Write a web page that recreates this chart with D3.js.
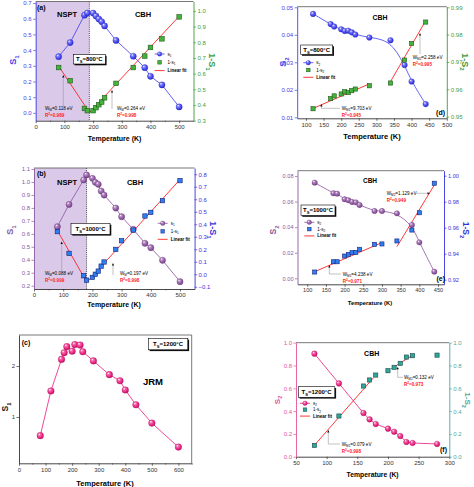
<!DOCTYPE html>
<html><head><meta charset="utf-8">
<script src="https://cdn.jsdelivr.net/npm/d3@7"></script>
<style>
html,body{margin:0;padding:0;background:#fff;}
svg{display:block;font-family:"Liberation Sans",Arial,sans-serif;}
</style></head><body>
<svg id="chart" width="474" height="487"></svg>
<script>
// ================= DATA =================
// (a) Ts = 800 C
const tempA = [80,120,170,180,200,210,220,230,240,280,340,380,400,440,500];
const s1A = [0.358,0.448,0.623,0.636,0.636,0.617,0.598,0.581,0.554,0.462,0.361,0.288,0.233,0.178,0.038];
const oneMinusS1A = [0.639,0.555,0.378,0.364,0.364,0.383,0.402,0.419,0.446,0.538,0.639,0.712,0.767,0.822,0.962];
const fitTA1 = [80,187], fitVA1 = [0.648,0.353];
const fitTA2 = [188,500], fitVA2 = [0.353,0.966];
const xTicksA = [0,100,200,300,400,500];
const yTicksLA = [0,0.1,0.2,0.3,0.4,0.5,0.6,0.7];
const yTicksRA = [0.3,0.4,0.5,0.6,0.7,0.8,0.9,1.0];

// (b) Ts = 1000 C
const tempB = [80,120,170,180,200,210,220,230,240,280,300,340,380,400,440,500];
const s1B = [0.655,0.827,1.015,1.054,1.028,0.997,0.982,0.930,0.899,0.799,0.732,0.635,0.527,0.493,0.396,0.231];
const oneMinusS1B = [0.341,0.167,-0.012,-0.047,-0.025,0.0,0.025,0.065,0.098,0.199,0.268,0.354,0.466,0.495,0.589,0.749];
const fitTB1 = [80,180], fitVB1 = [0.349,-0.06];
const fitTB2 = [183,500], fitVB2 = [-0.06,0.758];
const xTicksB = [0,100,200,300,400,500];
const yTicksLB = [0.2,0.3,0.4,0.5,0.6,0.7,0.8,0.9,1.0,1.1];
const yTicksRB = [-0.1,0,0.1,0.2,0.3,0.4,0.5,0.6,0.7,0.8];

// (c) Ts = 1200 C
const tempC = [80,120,160,170,180,200,210,230,240,280,340,380,400,440,500,600];
const s1C = [0.634,1.51,2.13,2.26,2.38,2.29,2.42,2.41,2.28,2.10,1.83,1.71,1.53,1.24,0.88,0.41];
const xTicksC = [0,100,200,300,400,500,600];
const yTicksC = [1,2];

// (d) Ts = 800 C
const tempD = [120,170,180,200,210,220,230,240,280,340,380,400,440];
const s2D = [0.0476,0.0439,0.0430,0.0420,0.0414,0.0415,0.0409,0.0401,0.0390,0.0380,0.0290,0.0230,0.0148];
const oneMinusS2D = [0.9529,0.9566,0.9576,0.9583,0.9591,0.9588,0.9595,0.9601,0.9613,0.9623,0.9707,0.9768,0.9846];
const fitTD1 = [120,280], fitVD1 = [0.9530,0.9620];
const fitTD2 = [340,440], fitVD2 = [0.9628,0.9851];
const xTicksD = [100,150,200,250,300,350,400,450,500];
const yTicksLD = [0.01,0.02,0.03,0.04,0.05];
const yTicksRD = [0.95,0.96,0.97,0.98,0.99];

// (e) Ts = 1000 C
const tempE = [120,170,180,200,210,220,230,240,280,300,340,380,400,440];
const s2E = [0.0748,0.0665,0.0662,0.0618,0.0610,0.0597,0.0594,0.0573,0.0526,0.0526,0.0508,0.0417,0.0281,0.0052];
const oneMinusS2E = [0.9259,0.9338,0.9338,0.9382,0.9395,0.9408,0.9410,0.9434,0.9472,0.9475,0.9498,0.9582,0.9715,0.9942];
const fitTE1 = [118,302], fitVE1 = [0.9259,0.9488];
const fitTE2 = [340,440], fitVE2 = [0.9454,0.9928];
const xTicksE = [100,150,200,250,300,350,400,450];
const yTicksLE = [0,0.02,0.04,0.06,0.08];
const yTicksRE = [0.92,0.94,0.96,0.98,1.00];

// (f) Ts = 1200 C
const tempF = [80,120,160,170,180,200,210,220,230,240,280];
const s2F = [0.904,0.643,0.383,0.327,0.287,0.246,0.219,0.181,0.129,0.120,0.112];
const oneMinusS2F = [0.099,0.357,0.620,0.673,0.716,0.754,0.784,0.819,0.874,0.886,0.891];
const fitTF1 = [80,176], fitVF1 = [0.10,0.69];
const fitTF2 = [205,240], fitVF2 = [0.77,0.89];
const xTicksF = [50,100,150,200,250,300];
const yTicksF = [0,0.2,0.4,0.6,0.8,1.0];

// ================= STYLE =================
const FONT = '"Liberation Sans", Arial, sans-serif';
const BLUE = '#3b3bf2', BLUE_AX = '#4343e8';
const GREEN_SQ = '#46b23e', GREEN_ED = '#1f5a1a', GREEN_AX = '#3e9b3a';
const PURPLE = '#8c50a0', PURPLE_AX = '#8a5a9e';
const BLUE_SQ = '#2f7ff0', BLUE_ED = '#15207a', BLUE2_AX = '#3434dc';
const PINK = '#ea1a7c', PINK_AX = '#e6559a';
const TEAL_SQ = '#2da69b', TEAL_ED = '#1c4845', TEAL_AX = '#4aa7a1';
const RED = '#ff2323';
const SHADE = '#dbc9ea';

const svg = d3.select('#chart');
const defs = svg.append('defs');
function makeGrad(id, c) {
  const gr = defs.append('radialGradient').attr('id', id)
    .attr('cx', '42%').attr('cy', '40%').attr('r', '62%').attr('fx', '33%').attr('fy', '28%');
  gr.append('stop').attr('offset', '0%').attr('stop-color', '#ffffff');
  gr.append('stop').attr('offset', '30%').attr('stop-color', d3.interpolateRgb(c, '#ffffff')(0.35));
  gr.append('stop').attr('offset', '78%').attr('stop-color', c);
  gr.append('stop').attr('offset', '100%').attr('stop-color', d3.color(c).darker(1).formatHex());
}
makeGrad('gBlue', BLUE); makeGrad('gPurple', PURPLE); makeGrad('gPink', PINK);

function rich(parent, x, y, segs, o) {
  const size = o.size;
  const g = parent.append('g').attr('transform', `translate(${x},${y})` + (o.rotate ? ` rotate(${o.rotate})` : ''));
  const t = g.append('text').attr('x', 0).attr('y', o.center ? size * 0.35 : 0)
    .attr('font-size', size).attr('fill', o.fill || '#000')
    .attr('font-weight', o.bold ? 'bold' : 'normal')
    .attr('font-family', FONT)
    .attr('text-anchor', o.anchor || 'start');
  let shift = 0;
  segs.forEach(([txt, mode]) => {
    const ts = t.append('tspan').text(txt);
    const target = mode === 'sub' ? size * 0.3 : (mode === 'sup' ? -size * 0.42 : 0);
    if (target - shift !== 0) ts.attr('dy', target - shift);
    shift = target;
    if (mode) ts.attr('font-size', size * 0.68);
  });
  return t;
}

function styleAxis(sel, color, fs) {
  sel.attr('font-size', fs).attr('font-family', FONT);
  sel.select('.domain').attr('stroke', color).attr('stroke-width', 0.9);
  sel.selectAll('.tick line').attr('stroke', color).attr('stroke-width', 0.7);
  sel.selectAll('.tick text').attr('fill', color);
}

function drawPanel(p) {
  const g = svg.append('g');
  const x = d3.scaleLinear().domain(p.xDomain).range([p.x0, p.x1]);
  const y = { L: d3.scaleLinear().domain(p.yL.domain).range([p.bottom, p.top]) };
  if (p.yR) y.R = d3.scaleLinear().domain(p.yR.domain).range([p.bottom, p.top]);
  if (p.shade) {
    g.append('rect').attr('x', x(p.shade[0])).attr('y', p.top)
      .attr('width', x(p.shade[1]) - x(p.shade[0])).attr('height', p.bottom - p.top)
      .attr('fill', SHADE);
    g.append('line').attr('x1', x(p.shade[1])).attr('x2', x(p.shade[1]))
      .attr('y1', p.top).attr('y2', p.bottom)
      .attr('stroke', '#222').attr('stroke-width', 0.8).attr('stroke-dasharray', '1,1.1');
  }
  p.series.forEach(s => {
    if (s.line) {
      g.append('path').datum(d3.zip(s.T, s.v))
        .attr('d', d3.line().x(d => x(d[0])).y(d => y[s.axis](d[1])).curve(s.curve || d3.curveLinear))
        .attr('fill', 'none').attr('stroke', s.lineColor || s.color).attr('stroke-width', 0.8);
    }
  });
  (p.fits || []).forEach(f => {
    g.append('path').datum(d3.zip(f.T, f.v))
      .attr('d', d3.line().x(d => x(d[0])).y(d => y[f.axis](d[1])))
      .attr('fill', 'none').attr('stroke', RED).attr('stroke-width', 0.9);
  });
  p.series.forEach(s => {
    const pts = d3.zip(s.T, s.v);
    if (s.kind === 'sphere') {
      g.append('g').selectAll('circle').data(pts).join('circle')
        .attr('cx', d => x(d[0])).attr('cy', d => y[s.axis](d[1])).attr('r', s.r)
        .attr('fill', `url(#${s.grad})`)
        .attr('stroke', d3.color(s.color).darker(0.7).formatHex()).attr('stroke-width', 0.35);
    } else {
      g.append('g').selectAll('rect').data(pts).join('rect')
        .attr('x', d => x(d[0]) - s.size / 2).attr('y', d => y[s.axis](d[1]) - s.size / 2)
        .attr('width', s.size).attr('height', s.size)
        .attr('fill', s.color).attr('stroke', s.stroke).attr('stroke-width', 0.6);
    }
  });
  // frame
  g.append('line').attr('x1', p.x0).attr('x2', p.x1).attr('y1', p.top).attr('y2', p.top)
    .attr('stroke', '#555').attr('stroke-width', 0.8);
  if (!p.yR) {
    g.append('line').attr('x1', p.x1).attr('x2', p.x1).attr('y1', p.top).attr('y2', p.bottom)
      .attr('stroke', '#555').attr('stroke-width', 0.8);
  }
  const fs = p.fs;
  const bx = g.append('g').attr('transform', `translate(0,${p.bottom})`)
    .call(d3.axisBottom(x).tickValues(p.xTicks).tickFormat(d3.format('d'))
      .tickSize(2.5).tickSizeOuter(0).tickPadding(1.5));
  styleAxis(bx, '#333', fs);
  if (p.xMinor) {
    const mx = g.append('g').attr('transform', `translate(0,${p.bottom})`)
      .call(d3.axisBottom(x).tickValues(p.xMinor).tickFormat('').tickSize(1.4).tickSizeOuter(0));
    mx.select('.domain').remove();
    mx.selectAll('.tick line').attr('stroke', '#333').attr('stroke-width', 0.6);
  }
  const lx = g.append('g').attr('transform', `translate(${p.x0},0)`)
    .call(d3.axisLeft(y.L).tickValues(p.yL.ticks).tickFormat(d3.format(p.yL.fmt))
      .tickSize(2.5).tickSizeOuter(0).tickPadding(1.5));
  styleAxis(lx, p.yL.color, fs);
  if (p.yR) {
    const rx = g.append('g').attr('transform', `translate(${p.x1},0)`)
      .call(d3.axisRight(y.R).tickValues(p.yR.ticks).tickFormat(d3.format(p.yR.fmt))
        .tickSize(2.5).tickSizeOuter(0).tickPadding(1.5));
    styleAxis(rx, p.yR.color, fs);
  }
  return { g, x, y };
}

function tsBox(x, y, w, h, temp) {
  svg.append('rect').attr('x', x + 1.3).attr('y', y + 1.3).attr('width', w).attr('height', h).attr('fill', '#111');
  svg.append('rect').attr('x', x).attr('y', y).attr('width', w).attr('height', h)
    .attr('fill', '#fff').attr('stroke', '#000').attr('stroke-width', 0.6);
  rich(svg, x + w / 2, y + h / 2, [['T', ''], ['S', 'sub'], ['=' + temp + '°C', '']],
    { size: 6, bold: true, anchor: 'middle', center: true });
}

function legend(x, y, dy, sym, sColor, sGrad, sqColor, sqStroke, idx) {
  svg.append('line').attr('x1', x - 5).attr('x2', x + 5).attr('y1', y).attr('y2', y)
    .attr('stroke', sColor).attr('stroke-width', 0.8);
  svg.append('circle').attr('cx', x).attr('cy', y).attr('r', 2.3).attr('fill', `url(#${sGrad})`)
    .attr('stroke', d3.color(sColor).darker(0.7).formatHex()).attr('stroke-width', 0.3);
  rich(svg, x + 8, y, [['s', ''], [idx, 'sub']], { size: 4.5, center: true });
  svg.append('rect').attr('x', x - 1.8).attr('y', y + dy - 1.8).attr('width', 3.6).attr('height', 3.6)
    .attr('fill', sqColor).attr('stroke', sqStroke).attr('stroke-width', 0.5);
  rich(svg, x + 8, y + dy, [['1-s', ''], [idx, 'sub']], { size: 4.5, center: true });
  svg.append('line').attr('x1', x - 5).attr('x2', x + 5).attr('y1', y + 2 * dy).attr('y2', y + 2 * dy)
    .attr('stroke', RED).attr('stroke-width', 0.9);
  rich(svg, x + 8, y + 2 * dy, [['Linear fit', '']], { size: 4.5, bold: true, center: true });
}

function arrow(pts, dir) {
  svg.append('polyline').attr('points', pts.map(p => p.join(',')).join(' '))
    .attr('fill', 'none').attr('stroke', '#999').attr('stroke-width', 0.6);
  const t = pts[pts.length - 1];
  let tri;
  if (dir === 'up') tri = [[t[0], t[1] - 2.4], [t[0] - 1.1, t[1]], [t[0] + 1.1, t[1]]];
  else tri = [[t[0] + 2.4, t[1]], [t[0], t[1] - 1.1], [t[0], t[1] + 1.1]];
  svg.append('polygon').attr('points', tri.map(p => p.join(',')).join(' ')).attr('fill', '#000');
}

function wLabel(x, y, sub, val, r2) {
  rich(svg, x, y, [['W', ''], [sub, 'sub'], ['=' + val + ' eV', '']], { size: 4.6 });
  rich(svg, x, y + 7, [['R', ''], ['2', 'sup'], ['=' + r2, '']], { size: 4.6, bold: true, fill: RED });
}

function titles(xc, yc, xtSize, leftSegs, lx, ly, lColor, rightSegs, rx, ry, rColor, tsize) {
  rich(svg, xc, yc, [['Temperature (K)', '']], { size: xtSize, bold: true, anchor: 'middle', center: true });
  rich(svg, lx, ly, leftSegs, { size: tsize, bold: true, anchor: 'middle', center: true, rotate: -90, fill: lColor });
  if (rightSegs) rich(svg, rx, ry, rightSegs, { size: tsize, bold: true, anchor: 'middle', center: true, rotate: 90, fill: rColor });
}

// ================= PANEL (a) =================
drawPanel({
  x0: 35.7, x1: 193.5, top: 1.5, bottom: 120.7, fs: 6,
  xDomain: [0, 550], xTicks: xTicksA, xMinor: [50, 150, 250, 350, 450],
  yL: { domain: [-0.05, 0.71], ticks: yTicksLA, fmt: '.1f', color: BLUE_AX },
  yR: { domain: [0.3, 1.06], ticks: yTicksRA, fmt: '.1f', color: GREEN_AX },
  shade: [0, 187],
  series: [
    { T: tempA, v: s1A, axis: 'L', kind: 'sphere', color: BLUE, grad: 'gBlue', r: 3.1, line: true },
    { T: tempA, v: oneMinusS1A, axis: 'R', kind: 'square', color: GREEN_SQ, stroke: GREEN_ED, size: 4.6 }
  ],
  fits: [{ T: fitTA1, v: fitVA1, axis: 'R' }, { T: fitTA2, v: fitVA2, axis: 'R' }]
});
rich(svg, 37, 8, [['(a)', '']], { size: 7, bold: true, center: true });
rich(svg, 67, 14, [['NSPT', '']], { size: 7.5, bold: true, anchor: 'middle', center: true });
rich(svg, 143, 14, [['CBH', '']], { size: 7.5, bold: true, anchor: 'middle', center: true });
tsBox(73.3, 54.5, 32, 9.5, 800);
legend(159.6, 54, 8.3, 'a', BLUE, 'gBlue', GREEN_SQ, GREEN_ED, '1');
arrow([[63.3, 106.5], [63.3, 77.5]], 'up');
wLabel(45, 110, 'M', '0.118', '0.989');
arrow([[112, 109], [112, 92.5]], 'up');
wLabel(117, 110, 'M', '0.264', '0.998');
titles(114.6, 138.3, 7, [['S', ''], ['1', 'sub']], 13, 60, BLUE_AX,
  [['1-S', ''], ['1', 'sub']], 212, 62, GREEN_AX, 9);

// ================= PANEL (b) =================
drawPanel({
  x0: 34, x1: 194.6, top: 168, bottom: 289, fs: 6,
  xDomain: [0, 550], xTicks: xTicksB, xMinor: [50, 150, 250, 350, 450],
  yL: { domain: [0.1746, 1.1077], ticks: yTicksLB, fmt: '.1f', color: PURPLE_AX },
  yR: { domain: [-0.118, 0.85], ticks: yTicksRB, fmt: '.1f', color: BLUE2_AX },
  shade: [0, 180],
  series: [
    { T: tempB, v: s1B, axis: 'L', kind: 'sphere', color: PURPLE, grad: 'gPurple', r: 3.1, line: true },
    { T: tempB, v: oneMinusS1B, axis: 'R', kind: 'square', color: BLUE_SQ, stroke: BLUE_ED, size: 4.4 }
  ],
  fits: [{ T: fitTB1, v: fitVB1, axis: 'R' }, { T: fitTB2, v: fitVB2, axis: 'R' }]
});
rich(svg, 37, 174, [['(b)', '']], { size: 7, bold: true, center: true });
rich(svg, 67, 182, [['NSPT', '']], { size: 7.5, bold: true, anchor: 'middle', center: true });
rich(svg, 135, 182, [['CBH', '']], { size: 7.5, bold: true, anchor: 'middle', center: true });
tsBox(71, 223.3, 39, 11, 1000);
legend(162.7, 223.3, 8, 'b', PURPLE, 'gPurple', BLUE_SQ, BLUE_ED, '1');
arrow([[61.7, 271], [61.7, 244]], 'up');
wLabel(45, 275, 'M', '0.088', '0.999');
arrow([[113, 275], [113, 265.5]], 'up');
wLabel(120, 275, 'M', '0.197', '0.998');
titles(114, 305, 7, [['S', ''], ['1', 'sub']], 10, 230, PURPLE_AX,
  [['1-S', ''], ['1', 'sub']], 213, 230, BLUE2_AX, 9);

// ================= PANEL (c) =================
drawPanel({
  x0: 19, x1: 191.7, top: 335, bottom: 463.3, fs: 6,
  xDomain: [0, 650], xTicks: xTicksC, xMinor: [50, 150, 250, 350, 450, 550, 650],
  yL: { domain: [0.092, 2.608], ticks: yTicksC, fmt: 'd', color: '#333' },
  series: [
    { T: tempC, v: s1C, axis: 'L', kind: 'sphere', color: PINK, grad: 'gPink', r: 3.3, line: true }
  ]
});
rich(svg, 21.7, 343, [['(c)', '']], { size: 7, bold: true, center: true });
rich(svg, 153, 382, [['JRM', '']], { size: 9.5, bold: true, anchor: 'middle', center: true });
tsBox(148.3, 338.3, 39.5, 11.5, 1200);
titles(105, 483, 7.5, [['S', ''], ['1', 'sub']], 5.5, 407, '#222', null, 0, 0, null, 8.5);

// ================= PANEL (d) =================
drawPanel({
  x0: 297.2, x1: 446.8, top: 6.7, bottom: 118.3, fs: 6,
  xDomain: [75, 500], xTicks: xTicksD,
  yL: { domain: [0.00964, 0.05022], ticks: yTicksLD, fmt: '.2f', color: BLUE_AX },
  yR: { domain: [0.9494, 0.99022], ticks: yTicksRD, fmt: '.2f', color: GREEN_AX },
  series: [
    { T: tempD, v: s2D, axis: 'L', kind: 'sphere', color: BLUE, grad: 'gBlue', r: 2.8, line: true, curve: d3.curveBasis },
    { T: tempD, v: oneMinusS2D, axis: 'R', kind: 'square', color: GREEN_SQ, stroke: GREEN_ED, size: 4.2 }
  ],
  fits: [{ T: fitTD1, v: fitVD1, axis: 'R' }, { T: fitTD2, v: fitVD2, axis: 'R' }]
});
rich(svg, 445, 113, [['(d)', '']], { size: 7, bold: true, anchor: 'end', center: true });
rich(svg, 380, 18, [['CBH', '']], { size: 7, bold: true, anchor: 'middle', center: true });
tsBox(300.7, 45, 32, 9.5, 800);
legend(308.3, 62.7, 7.3, 'd', BLUE, 'gBlue', GREEN_SQ, GREEN_ED, '2');
arrow([[340, 108.3], [321.4, 108.3], [321.4, 106.5]], 'up');
wLabel(341.7, 109.8, 'M1', '9.703', '0.945');
arrow([[420, 54], [420, 35.5]], 'up');
wLabel(412.7, 59, 'M2', '2.258', '0.995');
titles(372, 136.7, 7.5, [['S', ''], ['2', 'sub']], 283, 62, BLUE_AX,
  [['1-S', ''], ['2', 'sub']], 465.5, 62, GREEN_AX, 9);

// ================= PANEL (e) =================
drawPanel({
  x0: 297.5, x1: 444, top: 170.7, bottom: 284.3, fs: 5.6,
  xDomain: [74, 466], xTicks: xTicksE,
  yL: { domain: [-0.00469, 0.08413], ticks: yTicksLE, fmt: '.2f', color: PURPLE_AX },
  yR: { domain: [0.91646, 1.00385], ticks: yTicksRE, fmt: '.2f', color: BLUE2_AX },
  series: [
    { T: tempE, v: s2E, axis: 'L', kind: 'sphere', color: PURPLE, grad: 'gPurple', r: 2.7, line: true, curve: d3.curveBasis },
    { T: tempE, v: oneMinusS2E, axis: 'R', kind: 'square', color: BLUE_SQ, stroke: BLUE_ED, size: 4.1 }
  ],
  fits: [{ T: fitTE1, v: fitVE1, axis: 'R' }, { T: fitTE2, v: fitVE2, axis: 'R' }]
});
rich(svg, 445, 278.3, [['(e)', '']], { size: 7, bold: true, anchor: 'end', center: true });
rich(svg, 370, 180.7, [['CBH', '']], { size: 6.5, bold: true, anchor: 'middle', center: true });
tsBox(301, 205, 34, 10.5, 1000);
legend(309.3, 222.3, 6.8, 'e', PURPLE, 'gPurple', BLUE_SQ, BLUE_ED, '2');
arrow([[416, 193.3], [427.5, 193.3]], 'right');
wLabel(386.7, 194.8, 'M2', '1.129', '0.949');
arrow([[341, 274], [329.3, 274], [329.3, 267.5]], 'up');
wLabel(342.7, 275.5, 'M1', '4.238', '0.971');
titles(370, 303, 5.8, [['S', ''], ['2', 'sub']], 273, 230, PURPLE_AX,
  [['1-S', ''], ['2', 'sub']], 466, 230, BLUE2_AX, 8.5);

// ================= PANEL (f) =================
drawPanel({
  x0: 296, x1: 449.3, top: 342.7, bottom: 456.7, fs: 6,
  xDomain: [50, 300], xTicks: xTicksF,
  yL: { domain: [0, 1], ticks: yTicksF, fmt: '.1f', color: PINK_AX },
  yR: { domain: [0, 1], ticks: yTicksF, fmt: '.1f', color: TEAL_AX },
  series: [
    { T: tempF, v: s2F, axis: 'L', kind: 'sphere', color: PINK, grad: 'gPink', r: 2.8, line: true },
    { T: tempF, v: oneMinusS2F, axis: 'R', kind: 'square', color: TEAL_SQ, stroke: TEAL_ED, size: 4.2 }
  ],
  fits: [{ T: fitTF1, v: fitVF1, axis: 'R' }, { T: fitTF2, v: fitVF2, axis: 'R' }]
});
rich(svg, 447, 449.3, [['(f)', '']], { size: 7, bold: true, anchor: 'end', center: true });
rich(svg, 371.7, 353.3, [['CBH', '']], { size: 7, bold: true, anchor: 'middle', center: true });
tsBox(298.3, 386.7, 36.5, 10.6, 1200);
legend(305, 403.3, 6.4, 'f', PINK, 'gPink', TEAL_SQ, TEAL_ED, '2');
arrow([[403, 377.3], [397.7, 377.3], [397.7, 369.3]], 'up');
wLabel(404, 379, 'M2', '0.132', '0.973');
arrow([[340, 444], [328.3, 444], [328.3, 432.5]], 'up');
wLabel(341.7, 445.8, 'M1', '0.079', '0.998');
titles(372.6, 475, 6.8, [['S', ''], ['2', 'sub']], 276.7, 400, PINK_AX,
  [['1-S', ''], ['2', 'sub']], 467.5, 400, TEAL_AX, 8);
</script>
</body></html>
